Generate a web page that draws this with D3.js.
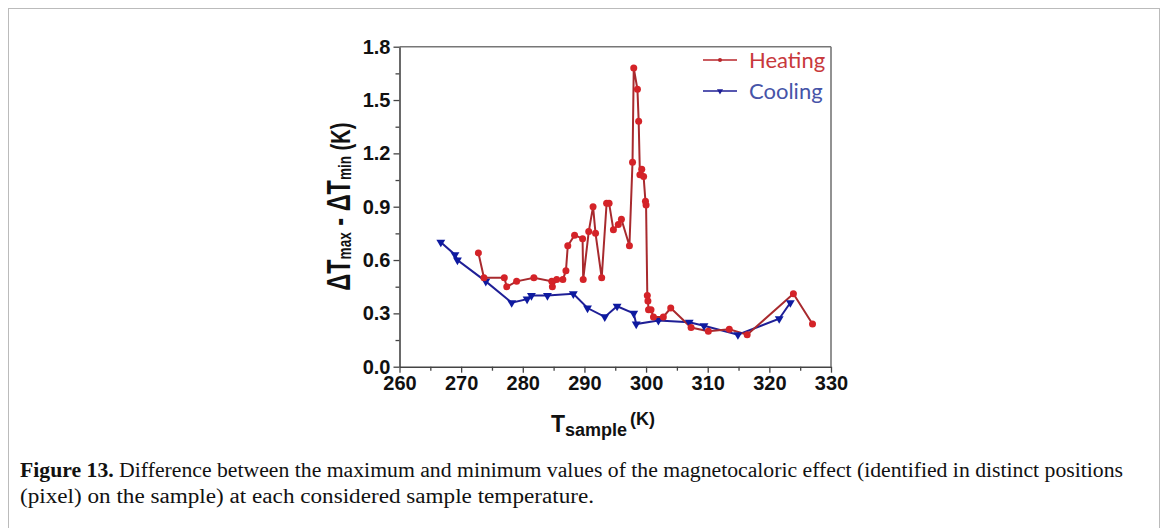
<!DOCTYPE html>
<html>
<head>
<meta charset="utf-8">
<script src="https://cdn.jsdelivr.net/npm/d3@7"></script>
<style>
  body { margin: 0; background: #fff; }
  svg { display: block; }
</style>
</head>
<body>
<script>
// heating run: sample temperature (K) and dTmax - dTmin (K)
var heatT = [272.8, 273.7, 277.0, 277.4, 279.0, 281.8, 284.7, 284.8, 285.5, 286.5,
  287.0, 287.3, 288.4, 289.7, 289.8, 290.7, 291.4, 291.8, 292.8, 293.6,
  294.0, 294.7, 295.5, 296.0, 297.3, 297.8, 298.0, 298.6, 298.8, 299.0,
  299.3, 299.6, 299.9, 300.0, 300.2, 300.3, 300.4, 300.8, 301.2, 302.8,
  304.0, 307.3, 310.1, 313.5, 316.4, 323.9, 327.0];
var heatV = [0.64, 0.50, 0.50, 0.45, 0.48, 0.50, 0.48, 0.45, 0.49, 0.49,
  0.54, 0.68, 0.74, 0.72, 0.49, 0.76, 0.90, 0.75, 0.50, 0.92,
  0.92, 0.77, 0.80, 0.83, 0.68, 1.15, 1.68, 1.56, 1.38, 1.08,
  1.11, 1.07, 0.93, 0.91, 0.40, 0.37, 0.32, 0.32, 0.28, 0.28,
  0.33, 0.22, 0.20, 0.21, 0.18, 0.41, 0.24];

// cooling run
var coolT = [266.7, 269.0, 269.4, 274.0, 278.2, 280.7, 281.4, 284.0, 288.2, 290.5,
  293.3, 295.3, 298.0, 298.4, 302.0, 307.0, 309.4, 314.9, 321.6, 323.4];
var coolV = [0.70, 0.63, 0.60, 0.48, 0.36, 0.38, 0.40, 0.40, 0.41, 0.33,
  0.28, 0.34, 0.30, 0.24, 0.26, 0.25, 0.23, 0.18, 0.27, 0.36];

var xTicks = [260, 270, 280, 290, 300, 310, 320, 330];
var yTicks = [0.0, 0.3, 0.6, 0.9, 1.2, 1.5, 1.8];
var seriesNames = ["Heating", "Cooling"];

var W = 1168, H = 528;
var svg = d3.select("body").append("svg")
  .attr("width", W)
  .attr("height", H);

// outer figure box
svg.append("rect")
  .attr("x", 8.5).attr("y", 8.5)
  .attr("width", 1151).attr("height", 560)
  .attr("fill", "none")
  .attr("stroke", "#bbb")
  .attr("stroke-width", 1);

var x = d3.scaleLinear().domain([260, 330]).range([399.5, 831]);
var y = d3.scaleLinear().domain([0, 1.8]).range([366.7, 46.7]);

var tickFont = "'Liberation Sans', Arial, sans-serif";

// frame (top and right)
var g = svg.append("g");
g.append("line")
  .attr("x1", x(260)).attr("x2", x(330))
  .attr("y1", y(1.8)).attr("y2", y(1.8))
  .attr("stroke", "#777").attr("stroke-width", 1.6);
g.append("line")
  .attr("x1", x(330)).attr("x2", x(330))
  .attr("y1", y(1.8)).attr("y2", y(0))
  .attr("stroke", "#777").attr("stroke-width", 1.6);

// minor ticks
g.append("g")
  .attr("transform", "translate(0," + y(0) + ")")
  .call(d3.axisBottom(x).tickValues(d3.range(265, 330, 10)).tickSize(4).tickFormat(""))
  .call(function (a) { a.select(".domain").remove(); });
g.append("g")
  .attr("transform", "translate(" + x(260) + ",0)")
  .call(d3.axisLeft(y).tickValues([0.15, 0.45, 0.75, 1.05, 1.35, 1.65]).tickSize(4).tickFormat(""))
  .call(function (a) { a.select(".domain").remove(); });

var xAxis = g.append("g")
  .attr("transform", "translate(0," + y(0) + ")")
  .call(d3.axisBottom(x).tickValues(xTicks).tickSize(6).tickSizeOuter(0).tickPadding(3).tickFormat(d3.format("d")));
var yAxis = g.append("g")
  .attr("transform", "translate(" + x(260) + ",0)")
  .call(d3.axisLeft(y).tickValues(yTicks).tickSize(6).tickSizeOuter(0).tickPadding(3).tickFormat(d3.format(".1f")));

[xAxis, yAxis].forEach(function (a) {
  a.selectAll(".domain").attr("stroke", "#444").attr("stroke-width", 1.6);
  a.selectAll("text")
    .attr("fill", "#111")
    .style("font-family", tickFont)
    .style("font-weight", "bold")
    .style("font-size", "20px");
});
g.selectAll(".tick line").attr("stroke", "#444").attr("stroke-width", 1.3);

// series
var heat = heatT.map(function (t, i) { return [t, heatV[i]]; });
var cool = coolT.map(function (t, i) { return [t, coolV[i]]; });
var line = d3.line().x(function (d) { return x(d[0]); }).y(function (d) { return y(d[1]); });

svg.append("path").datum(cool)
  .attr("d", line).attr("fill", "none")
  .attr("stroke", "#1f1f96").attr("stroke-width", 2);
svg.append("path").datum(heat)
  .attr("d", line).attr("fill", "none")
  .attr("stroke", "#a82a2e").attr("stroke-width", 2);

var tri = d3.symbol().type(d3.symbolTriangle).size(34);
svg.selectAll(".cool").data(cool).enter().append("path")
  .attr("class", "cool")
  .attr("d", tri)
  .attr("transform", function (d) { return "translate(" + x(d[0]) + "," + y(d[1]) + ") rotate(180)"; })
  .attr("fill", "#0e1aa0");
svg.selectAll(".heat").data(heat).enter().append("circle")
  .attr("class", "heat")
  .attr("cx", function (d) { return x(d[0]); })
  .attr("cy", function (d) { return y(d[1]); })
  .attr("r", 3.5)
  .attr("fill", "#d42328");

// legend
var legColors = [["#b8262b", "#c8393c"], ["#1f1f96", "#4654a8"]];
var leg = svg.append("g").attr("transform", "translate(703,60)");
seriesNames.forEach(function (name, i) {
  var row = leg.append("g").attr("transform", "translate(0," + (i * 31) + ")");
  row.append("line").attr("x1", 0).attr("x2", 34).attr("y1", 0).attr("y2", 0)
    .attr("stroke", legColors[i][0]).attr("stroke-width", 1.6);
  if (i === 0) {
    row.append("circle").attr("cx", 17).attr("cy", 0).attr("r", 2).attr("fill", legColors[i][0]);
  } else {
    row.append("path").attr("d", d3.symbol().type(d3.symbolTriangle).size(16))
      .attr("transform", "translate(17,0) rotate(180)").attr("fill", legColors[i][0]);
  }
  row.append("text")
    .attr("x", 46).attr("y", 8)
    .attr("fill", legColors[i][1])
    .style("font-family", "Lato, 'Open Sans', sans-serif")
    .style("font-size", "22px")
    .text(name);
});

// y axis title (condensed like the original narrow face)
var yt = svg.append("text")
  .attr("transform", "translate(350," + ((y(0) + y(1.8)) / 2) + ") rotate(-90)")
  .attr("text-anchor", "middle")
  .attr("textLength", 168).attr("lengthAdjust", "spacingAndGlyphs")
  .attr("fill", "#111")
  .style("font-family", tickFont)
  .style("font-weight", "bold")
  .style("font-size", "33px");
yt.append("tspan").text("ΔT");
yt.append("tspan").attr("font-size", "19px").attr("dy", 1).text("max");
yt.append("tspan").attr("dy", -1).text(" - ΔT");
yt.append("tspan").attr("font-size", "19px").attr("dy", 1).text("min");
yt.append("tspan").attr("dy", -1).attr("font-size", "28px").text(" (K)");

// x axis title
var xt = svg.append("text")
  .attr("x", 551).attr("y", 432)
  .attr("fill", "#111")
  .style("font-family", tickFont)
  .style("font-weight", "bold")
  .style("font-size", "23px");
xt.append("tspan").text("T");
xt.append("tspan").attr("font-size", "18px").attr("dy", 4).text("sample");
xt.append("tspan").attr("font-size", "18px").attr("dy", -11).attr("dx", 3).text("(K)");

// caption
var capFont = "'Liberation Serif', 'DejaVu Serif', serif";
var c1 = svg.append("text")
  .attr("x", 20).attr("y", 477)
  .attr("textLength", 1103).attr("lengthAdjust", "spacingAndGlyphs")
  .attr("fill", "#111")
  .style("font-family", capFont).style("font-size", "20px");
c1.append("tspan").style("font-weight", "bold").text("Figure 13.");
c1.append("tspan").text(" Difference between the maximum and minimum values of the magnetocaloric effect (identified in distinct positions");
svg.append("text")
  .attr("x", 20).attr("y", 503)
  .attr("textLength", 574).attr("lengthAdjust", "spacingAndGlyphs")
  .attr("fill", "#111")
  .style("font-family", capFont).style("font-size", "20px")
  .text("(pixel) on the sample) at each considered sample temperature.");
</script>
</body>
</html>
